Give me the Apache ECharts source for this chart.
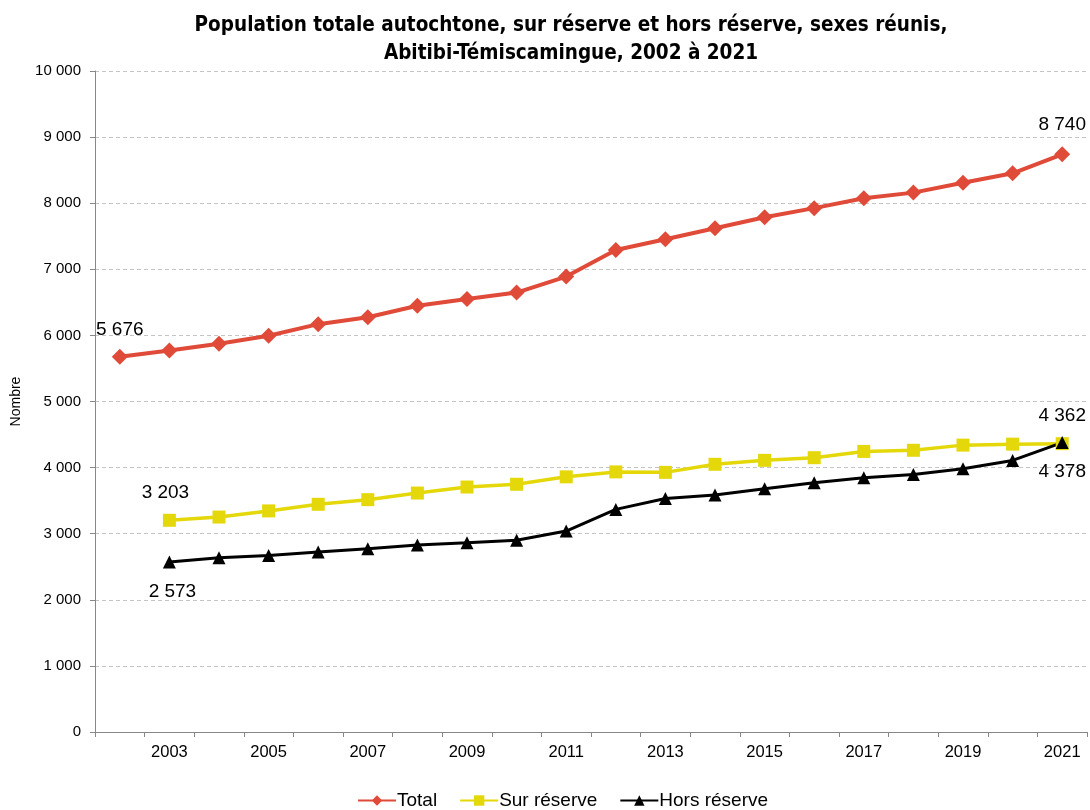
<!DOCTYPE html>
<html><head><meta charset="utf-8">
<script src="https://cdn.jsdelivr.net/npm/echarts@6/dist/echarts.min.js"></script>
<style>html,body{margin:0;padding:0;background:#fff}#c{width:1090px;height:810px}</style>
</head><body><div id="c"></div>
<script>
var years = ['2002','2003','2004','2005','2006','2007','2008','2009','2010','2011','2012','2013','2014','2015','2016','2017','2018','2019','2020','2021'];
var total = [5676,5772,5875,5995,6170,6275,6448,6552,6648,6890,7292,7455,7620,7788,7925,8076,8160,8310,8452,8740];
var surReserve = [null,3203,3252,3345,3445,3515,3615,3706,3748,3860,3935,3928,4050,4110,4150,4245,4262,4340,4355,4362];
var horsReserve = [null,2573,2637,2672,2722,2772,2828,2862,2902,3040,3368,3532,3584,3680,3772,3846,3896,3982,4108,4378];
var yTicks = ['0','1 000','2 000','3 000','4 000','5 000','6 000','7 000','8 000','9 000','10 000'];

function fmt(v){ return String(v).replace(/\B(?=(\d{3})+(?!\d))/g,' '); }
var FONT = "'Liberation Sans', Arial, sans-serif";
var lblStyle = {show:true, color:'#000', fontSize:19, fontFamily:FONT, formatter:function(p){return fmt(p.value);}};
function withLabels(arr, specs){
  return arr.map(function(v,i){
    if (specs[i]) return {value:v, label:Object.assign({}, lblStyle, specs[i])};
    return v;
  });
}
var chart = echarts.init(document.getElementById('c'), null, {renderer:'canvas'});
chart.setOption({
  animation:false,
  backgroundColor:'#fff',
  title:{
    text:'Population totale autochtone, sur réserve et hors réserve, sexes réunis,\nAbitibi-Témiscamingue, 2002 à 2021',
    left:566, top:7, textAlign:'center',
    textStyle:{fontFamily:"'Liberation Sans Narrow','DejaVu Sans Condensed','Liberation Sans',sans-serif", fontWeight:'bold', fontSize:20.5, lineHeight:28, color:'#000'}
  },
  grid:{left:95, right:3, top:71, bottom:78, containLabel:false, outerBoundsMode:'none'},
  legend:{
    top:786, left:352, itemGap:22, itemWidth:38, itemHeight:13,
    textStyle:{fontFamily:FONT, fontSize:19, color:'#000', padding:[0,0,0,-4]},
    data:['Total','Sur réserve','Hors réserve']
  },
  xAxis:{
    type:'category', data:years, boundaryGap:true,
    axisLine:{lineStyle:{color:'#888', width:1}},
    axisTick:{show:true, interval:0, length:5, lineStyle:{color:'#888'}},
    axisLabel:{interval:function(i){return i%2===1;}, color:'#000', fontSize:16.5, fontFamily:FONT, margin:12}
  },
  yAxis:{
    type:'value', min:0, max:10000, interval:1000,
    name:'Nombre', nameLocation:'middle', nameGap:72, nameRotate:90,
    nameTextStyle:{fontFamily:FONT, fontSize:14, color:'#000'},
    axisLine:{show:true, lineStyle:{color:'#888'}},
    axisTick:{show:true, length:5, lineStyle:{color:'#888'}},
    axisLabel:{color:'#000', fontSize:15, fontFamily:FONT, margin:14, formatter:function(v){return yTicks[Math.round(v/1000)];}},
    splitLine:{show:true, lineStyle:{color:'#c4c4c4', type:[4,3], width:1}}
  },
  series:[
    {name:'Total', type:'line', symbol:'diamond', symbolSize:16, color:'#e04a38',
     lineStyle:{width:4, color:'#e04a38'}, itemStyle:{color:'#e04a38'},
     data:withLabels(total,{0:{position:'top', distance:10}, 19:{position:'top', distance:12}})},
    {name:'Sur réserve', type:'line', symbol:'rect', symbolSize:13, color:'#e5d80a',
     lineStyle:{width:3.5, color:'#e5d80a'}, itemStyle:{color:'#e5d80a'}, connectNulls:false,
     data:withLabels(surReserve,{1:{position:'top', distance:12, offset:[-4,0]}, 19:{position:'top', distance:12}})},
    {name:'Hors réserve', type:'line', symbol:'triangle', symbolSize:13, color:'#000',
     lineStyle:{width:3, color:'#000'}, itemStyle:{color:'#000'},
     data:withLabels(horsReserve,{1:{position:'bottom', distance:14, offset:[3,0]}, 19:{position:'bottom', distance:13}})}
  ]
});
</script></body></html>
